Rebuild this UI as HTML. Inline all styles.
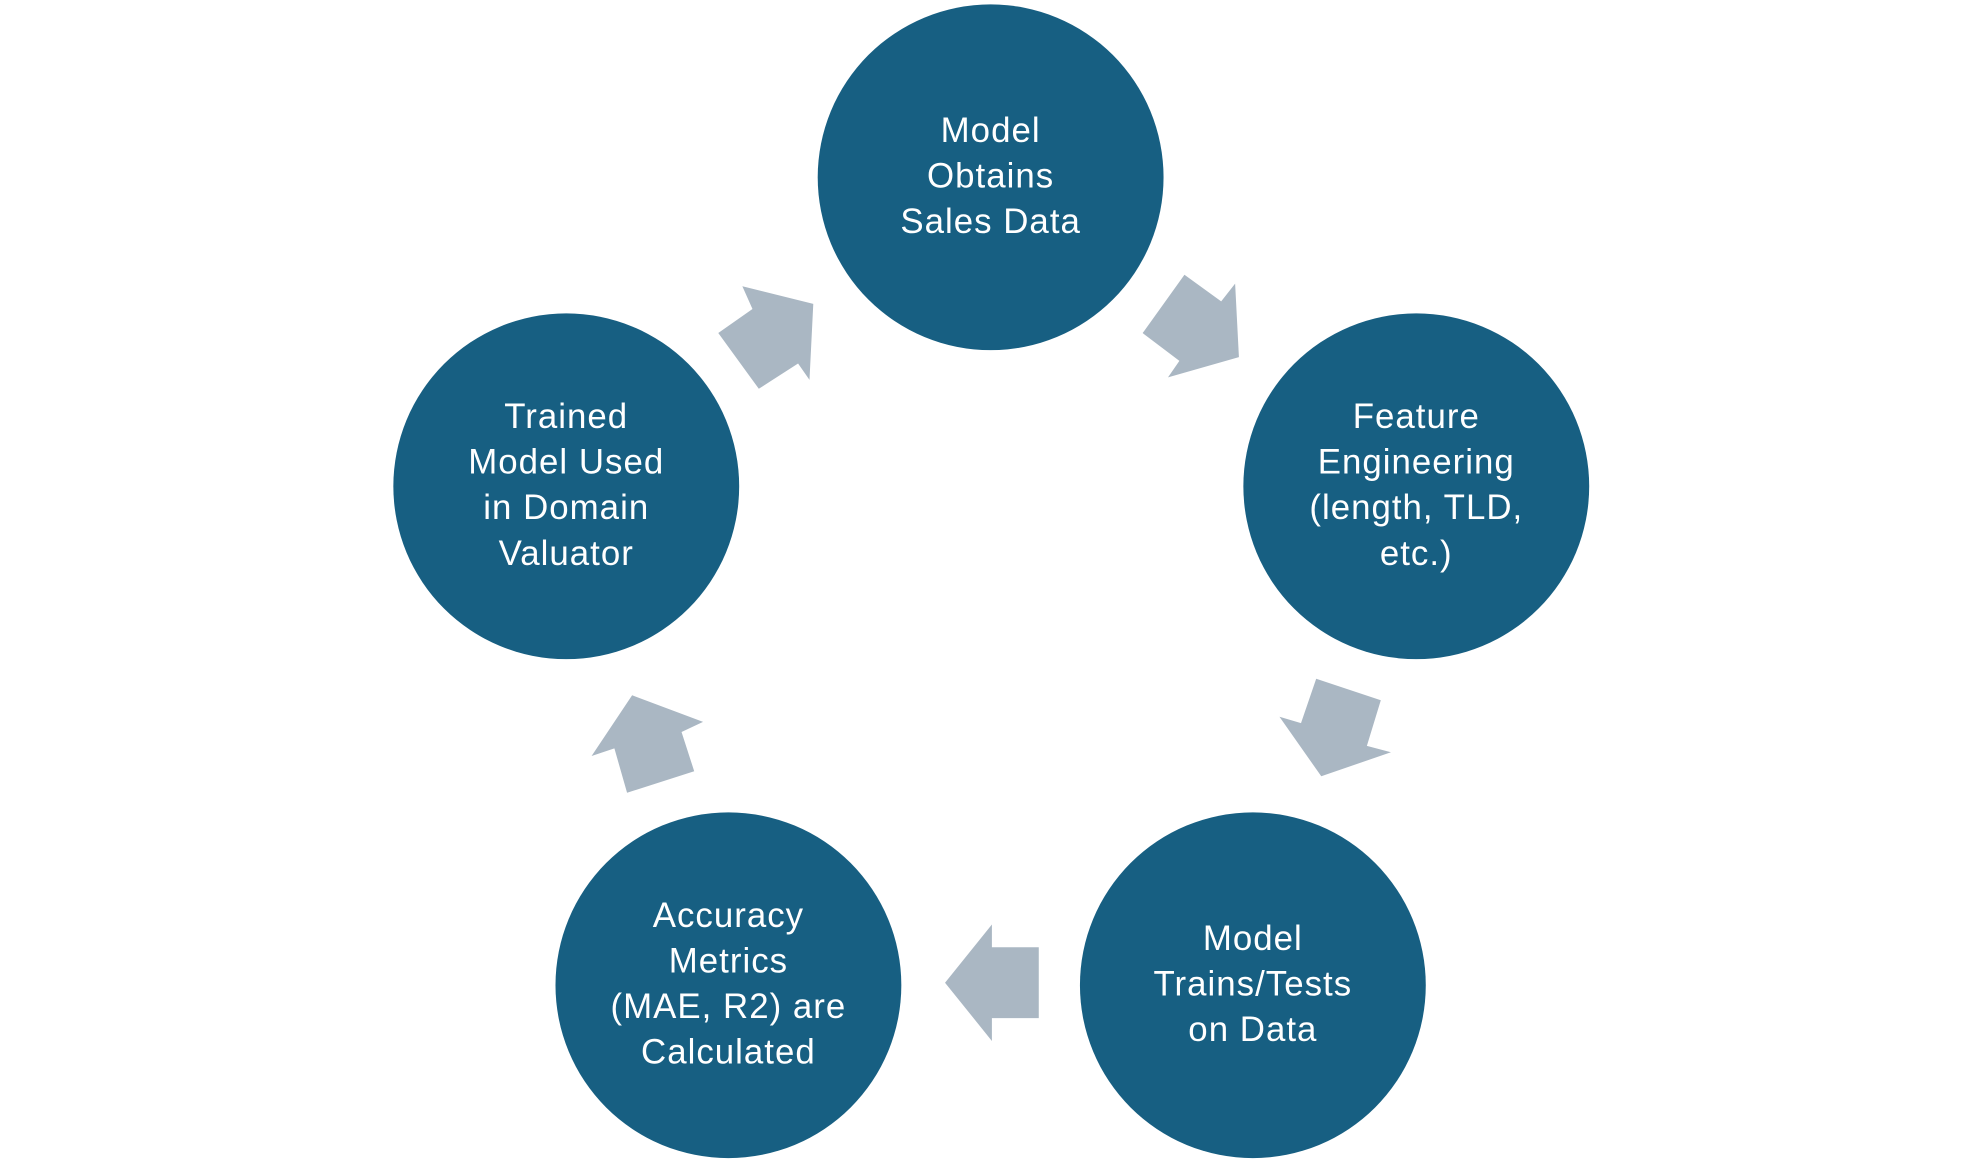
<!DOCTYPE html>
<html><head><meta charset="utf-8"><style>html,body{margin:0;padding:0;background:#fff}svg{display:block}</style></head>
<body>
<svg width="1980" height="1160" viewBox="0 0 1563 916" preserveAspectRatio="none" xmlns="http://www.w3.org/2000/svg">
<g fill="#175f82">
<circle cx="782" cy="140" r="136.5"/>
<circle cx="1118" cy="384" r="136.5"/>
<circle cx="989" cy="778" r="136.5"/>
<circle cx="575" cy="778" r="136.5"/>
<circle cx="447" cy="384" r="136.5"/>
</g>
<g fill="#aab7c3">
<polygon points="567,263 594,244 586,226 642,240 639,300 630,287 599,307"/>
<polygon points="935,217 964,238 975,224 978,282 922,298 931,285 902,263"/>
<polygon points="1039,536 1090,553 1079,589 1098,594 1043,613 1010,566 1027,571"/>
<polygon points="820,748 820,804 783,804 783,822 746,776 783,730 783,748"/>
<polygon points="495,626 548,609 538,578 555,570 499,549 467,597 485,591"/>
</g>
<g fill="#fff" font-family="Liberation Sans, sans-serif" font-size="27.5" letter-spacing="0.8" text-anchor="middle">
<text x="782" y="112">Model</text><text x="782" y="148">Obtains</text><text x="782" y="184">Sales Data</text>
<text x="1118" y="338">Feature</text><text x="1118" y="374">Engineering</text><text x="1118" y="410">(length, TLD,</text><text x="1118" y="446">etc.)</text>
<text x="989" y="750">Model</text><text x="989" y="786">Trains/Tests</text><text x="989" y="822">on Data</text>
<text x="575" y="732">Accuracy</text><text x="575" y="768">Metrics</text><text x="575" y="804">(MAE, R2) are</text><text x="575" y="840">Calculated</text>
<text x="447" y="338">Trained</text><text x="447" y="374">Model Used</text><text x="447" y="410">in Domain</text><text x="447" y="446">Valuator</text>
</g>
</svg>
</body></html>
